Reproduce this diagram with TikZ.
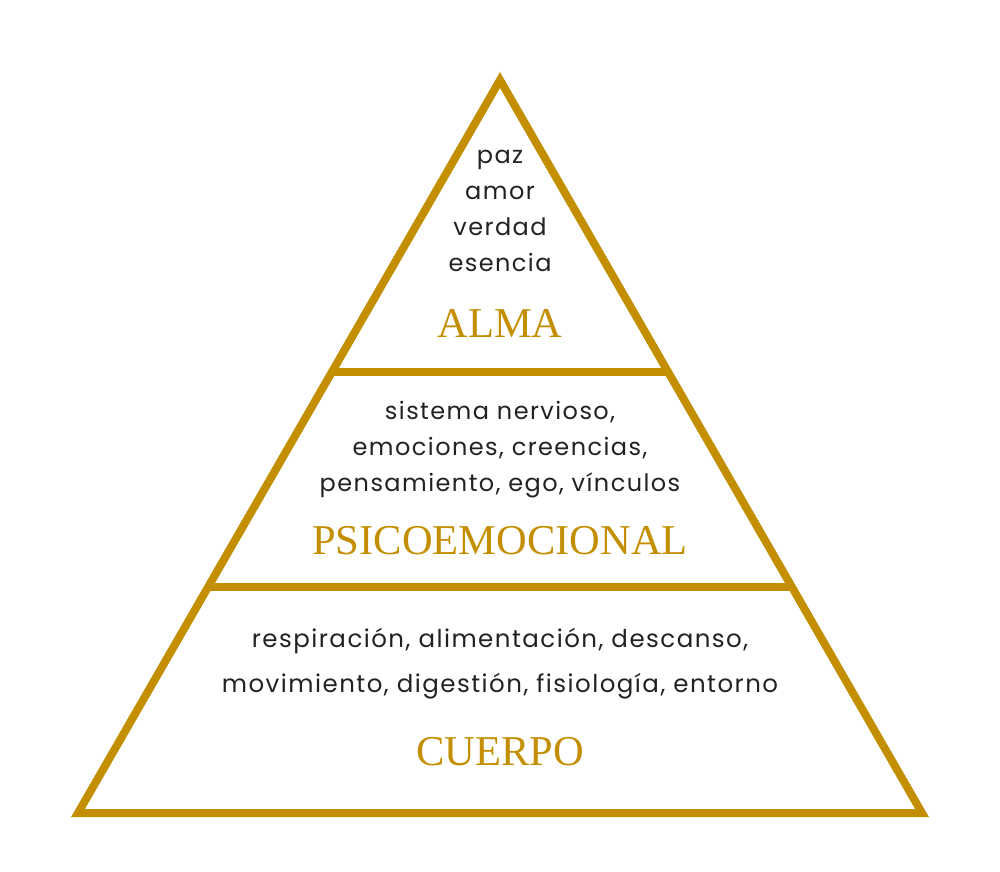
\documentclass[tikz,border=0pt]{standalone}
\usepackage{fontspec}
\setmainfont{Liberation Serif}
\newfontfamily\bodyfont[LetterSpace=6]{Poppins}
\definecolor{pyrgold}{RGB}{195, 143, 0}
\definecolor{pyrtext}{RGB}{34, 34, 38}
\usetikzlibrary{positioning}

\begin{document}
\begin{tikzpicture}[x=1pt, y=-1pt,
    edge/.style={draw=pyrgold, line width=8pt},
    item/.style={text=pyrtext, font=\bodyfont\fontsize{24}{36}\selectfont, align=center, inner sep=0pt},
    level/.style={text=pyrgold, font=\fontsize{42.5}{42.5}\selectfont, inner sep=0pt}]
  \useasboundingbox (0,0) rectangle (1000,871);
  % outline
  \coordinate (apex) at (500,80);
  \coordinate (bl) at (78,813);
  \coordinate (br) at (922,813);
  \draw[edge, line join=miter] (apex) -- (br) -- (bl) -- cycle;
  % dividers
  \coordinate (ul) at (332,372);
  \coordinate (ur) at (668,372);
  \coordinate (ml) at (208,587);
  \coordinate (mr) at (792,587);
  \draw[edge] (ul) -- (ur);
  \draw[edge] (ml) -- (mr);
  % top level
  \node[item] (soul) at (500,211) {paz\\amor\\verdad\\esencia};
  \node[level] (alma) at (500,323) {ALMA};
  % middle level
  \node[item] (mind) at (500,450) {sistema nervioso,\\emociones, creencias,\\pensamiento, ego, vínculos};
  \node[level] (psico) at (500,541) {PSICOEMOCIONAL};
  % bottom level
  \node[item, font=\bodyfont\fontsize{24.5}{45}\selectfont] (body) at (500,664) {respiración, alimentación, descanso,\\movimiento, digestión, fisiología, entorno};
  \node[level] (cuerpo) at (500,752) {CUERPO};
\end{tikzpicture}
\end{document}
